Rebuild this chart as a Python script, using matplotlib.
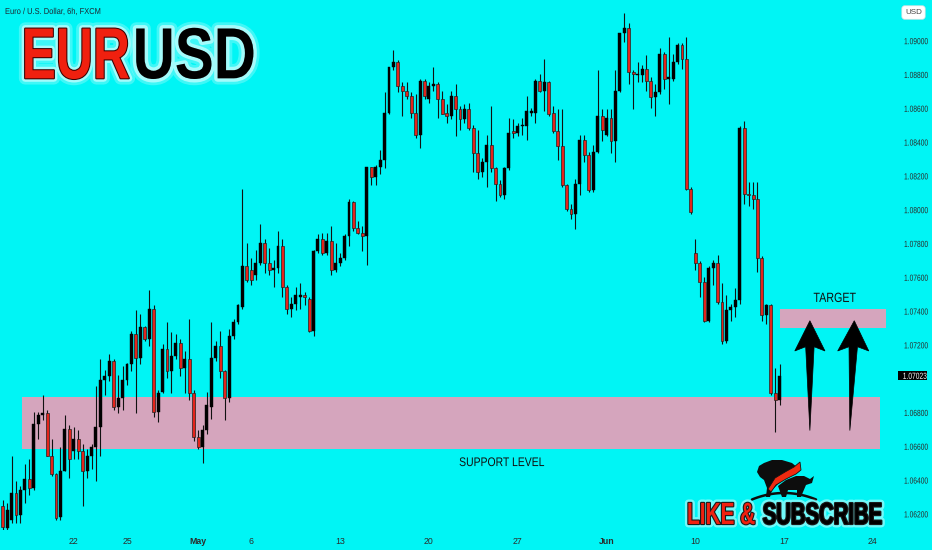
import matplotlib
matplotlib.use('Agg')
import matplotlib.pyplot as plt
import numpy as np
import pandas as pd
from matplotlib import patheffects as pe
from matplotlib.patches import Rectangle, Polygon
from matplotlib.transforms import Affine2D, blended_transform_factory

# ---- EURUSD 6h candles, 16 Apr - 14 Jun 2024, 4 candles per trading day ----
opens = [
    1.0625, 1.0612, 1.0617, 1.0633, 1.0620, 1.0635, 1.0641, 1.0636,
    1.0674, 1.0679, 1.0680, 1.0655, 1.0644, 1.0619, 1.0646, 1.0671,
    1.0658, 1.0665, 1.0658, 1.0646, 1.0655, 1.0660, 1.0672, 1.0700,
    1.0702, 1.0711, 1.0684, 1.0689, 1.0700, 1.0709, 1.0727, 1.0713,
    1.0731, 1.0724, 1.0742, 1.0681, 1.0693, 1.0718, 1.0705, 1.0714,
    1.0722, 1.0707, 1.0712, 1.0692, 1.0666, 1.0660, 1.0670, 1.0684,
    1.0713, 1.0720, 1.0705, 1.0689, 1.0726, 1.0734, 1.0743, 1.0767,
    1.0765, 1.0762, 1.0769, 1.0781, 1.0769, 1.0765, 1.0766, 1.0779,
    1.0755, 1.0742, 1.0745, 1.0749, 1.0750, 1.0748, 1.0729, 1.0776,
    1.0783, 1.0775, 1.0782, 1.0765, 1.0769, 1.0772, 1.0785, 1.0805,
    1.0790, 1.0787, 1.0785, 1.0826, 1.0820, 1.0826, 1.0830, 1.0858,
    1.0885, 1.0888, 1.0874, 1.0871, 1.0868, 1.0858, 1.0845, 1.0877,
    1.0866, 1.0874, 1.0875, 1.0866, 1.0858, 1.0856, 1.0868, 1.0860,
    1.0854, 1.0860, 1.0849, 1.0834, 1.0823, 1.0829, 1.0839, 1.0825,
    1.0816, 1.0809, 1.0825, 1.0847, 1.0846, 1.0850, 1.0850, 1.0858,
    1.0858, 1.0877, 1.0871, 1.0876, 1.0858, 1.0847, 1.0838, 1.0815,
    1.0801, 1.0798, 1.0816, 1.0842, 1.0833, 1.0812, 1.0835, 1.0856,
    1.0845, 1.0855, 1.0841, 1.0871, 1.0905, 1.0908, 1.0882, 1.0880,
    1.0880, 1.0884, 1.0877, 1.0867, 1.0870, 1.0893, 1.0878, 1.0878,
    1.0888, 1.0898, 1.0890, 1.0813, 1.0775, 1.0769, 1.0758, 1.0735,
    1.0766, 1.0769, 1.0746, 1.0723, 1.0741, 1.0743, 1.0747, 1.0849,
    1.0810, 1.0809, 1.0807, 1.0772, 1.0738, 1.0744, 1.0692, 1.0688,
]
highs = [
    1.0629, 1.0627, 1.0655, 1.0640, 1.0637, 1.0650, 1.0653, 1.0681,
    1.0681, 1.0691, 1.0682, 1.0665, 1.0645, 1.0660, 1.0679, 1.0673,
    1.0672, 1.0670, 1.0662, 1.0659, 1.0662, 1.0696, 1.0712, 1.0706,
    1.0715, 1.0712, 1.0703, 1.0708, 1.0710, 1.0729, 1.0741, 1.0739,
    1.0732, 1.0753, 1.0744, 1.0694, 1.0721, 1.0734, 1.0728, 1.0727,
    1.0724, 1.0717, 1.0736, 1.0694, 1.0670, 1.0673, 1.0693, 1.0734,
    1.0723, 1.0729, 1.0706, 1.0730, 1.0736, 1.0745, 1.0813, 1.0781,
    1.0772, 1.0777, 1.0792, 1.0783, 1.0778, 1.0771, 1.0788, 1.0783,
    1.0756, 1.0749, 1.0755, 1.0757, 1.0752, 1.0749, 1.0777, 1.0786,
    1.0787, 1.0787, 1.0791, 1.0781, 1.0775, 1.0786, 1.0807, 1.0806,
    1.0794, 1.0791, 1.0826, 1.0826, 1.0827, 1.0836, 1.0870, 1.0885,
    1.0895, 1.0889, 1.0876, 1.0876, 1.0870, 1.0869, 1.0878, 1.0878,
    1.0876, 1.0885, 1.0876, 1.0871, 1.0863, 1.0871, 1.0875, 1.0862,
    1.0863, 1.0864, 1.0851, 1.0848, 1.0831, 1.0845, 1.0862, 1.0826,
    1.0818, 1.0826, 1.0855, 1.0854, 1.0852, 1.0855, 1.0868, 1.0861,
    1.0878, 1.0881, 1.0890, 1.0877, 1.0862, 1.0860, 1.0860, 1.0816,
    1.0804, 1.0819, 1.0845, 1.0845, 1.0835, 1.0839, 1.0883, 1.0860,
    1.0860, 1.0860, 1.0883, 1.0905, 1.0917, 1.0911, 1.0883, 1.0888,
    1.0886, 1.0892, 1.0879, 1.0875, 1.0896, 1.0894, 1.0903, 1.0893,
    1.0899, 1.0899, 1.0903, 1.0814, 1.0783, 1.0770, 1.0761, 1.0767,
    1.0771, 1.0774, 1.0757, 1.0750, 1.0745, 1.0754, 1.0850, 1.0853,
    1.0817, 1.0817, 1.0817, 1.0773, 1.0745, 1.0745, 1.0707, 1.0709,
]
lows = [
    1.0610, 1.0611, 1.0615, 1.0615, 1.0615, 1.0627, 1.0632, 1.0635,
    1.0665, 1.0676, 1.0655, 1.0643, 1.0617, 1.0617, 1.0646, 1.0642,
    1.0653, 1.0653, 1.0625, 1.0642, 1.0647, 1.0640, 1.0655, 1.0691,
    1.0699, 1.0682, 1.0680, 1.0682, 1.0697, 1.0705, 1.0680, 1.0709,
    1.0723, 1.0720, 1.0678, 1.0675, 1.0692, 1.0701, 1.0692, 1.0712,
    1.0702, 1.0692, 1.0688, 1.0664, 1.0659, 1.0651, 1.0668, 1.0677,
    1.0711, 1.0701, 1.0676, 1.0687, 1.0724, 1.0733, 1.0742, 1.0758,
    1.0756, 1.0759, 1.0768, 1.0763, 1.0762, 1.0755, 1.0763, 1.0749,
    1.0739, 1.0737, 1.0741, 1.0742, 1.0744, 1.0728, 1.0726, 1.0775,
    1.0774, 1.0774, 1.0762, 1.0764, 1.0767, 1.0771, 1.0779, 1.0788,
    1.0786, 1.0776, 1.0768, 1.0815, 1.0815, 1.0822, 1.0825, 1.0857,
    1.0883, 1.0870, 1.0856, 1.0866, 1.0855, 1.0843, 1.0837, 1.0866,
    1.0864, 1.0871, 1.0855, 1.0857, 1.0852, 1.0854, 1.0844, 1.0848,
    1.0852, 1.0848, 1.0823, 1.0819, 1.0820, 1.0814, 1.0823, 1.0806,
    1.0808, 1.0807, 1.0824, 1.0843, 1.0844, 1.0845, 1.0842, 1.0856,
    1.0852, 1.0870, 1.0859, 1.0856, 1.0846, 1.0830, 1.0814, 1.0800,
    1.0795, 1.0789, 1.0809, 1.0829, 1.0811, 1.0811, 1.0834, 1.0841,
    1.0844, 1.0834, 1.0829, 1.0870, 1.0900, 1.0875, 1.0860, 1.0876,
    1.0876, 1.0871, 1.0861, 1.0856, 1.0869, 1.0872, 1.0863, 1.0877,
    1.0887, 1.0884, 1.0812, 1.0798, 1.0765, 1.0749, 1.0734, 1.0734,
    1.0756, 1.0745, 1.0721, 1.0722, 1.0735, 1.0737, 1.0745, 1.0804,
    1.0803, 1.0801, 1.0764, 1.0735, 1.0733, 1.0691, 1.0669, 1.0685,
]
closes = [
    1.0613, 1.0623, 1.0633, 1.0620, 1.0635, 1.0641, 1.0636, 1.0674,
    1.0679, 1.0680, 1.0655, 1.0644, 1.0618, 1.0646, 1.0671, 1.0653,
    1.0665, 1.0658, 1.0646, 1.0655, 1.0660, 1.0672, 1.0700, 1.0702,
    1.0711, 1.0684, 1.0689, 1.0700, 1.0709, 1.0727, 1.0713, 1.0731,
    1.0724, 1.0742, 1.0681, 1.0692, 1.0718, 1.0705, 1.0714, 1.0722,
    1.0707, 1.0712, 1.0692, 1.0666, 1.0660, 1.0670, 1.0685, 1.0713,
    1.0720, 1.0705, 1.0689, 1.0726, 1.0734, 1.0744, 1.0767, 1.0759,
    1.0759, 1.0769, 1.0781, 1.0769, 1.0765, 1.0766, 1.0779, 1.0755,
    1.0742, 1.0745, 1.0750, 1.0750, 1.0749, 1.0729, 1.0776, 1.0783,
    1.0775, 1.0782, 1.0765, 1.0769, 1.0772, 1.0785, 1.0805, 1.0790,
    1.0787, 1.0785, 1.0826, 1.0820, 1.0826, 1.0830, 1.0858, 1.0885,
    1.0888, 1.0874, 1.0871, 1.0868, 1.0858, 1.0845, 1.0877, 1.0868,
    1.0874, 1.0875, 1.0866, 1.0857, 1.0856, 1.0868, 1.0860, 1.0854,
    1.0860, 1.0849, 1.0834, 1.0823, 1.0829, 1.0839, 1.0825, 1.0816,
    1.0809, 1.0825, 1.0846, 1.0846, 1.0850, 1.0851, 1.0859, 1.0859,
    1.0877, 1.0871, 1.0876, 1.0857, 1.0847, 1.0838, 1.0815, 1.0801,
    1.0798, 1.0816, 1.0842, 1.0833, 1.0812, 1.0835, 1.0856, 1.0848,
    1.0855, 1.0841, 1.0871, 1.0905, 1.0908, 1.0882, 1.0881, 1.0881,
    1.0884, 1.0877, 1.0867, 1.0870, 1.0893, 1.0878, 1.0879, 1.0888,
    1.0898, 1.0890, 1.0813, 1.0799, 1.0769, 1.0758, 1.0735, 1.0766,
    1.0769, 1.0746, 1.0723, 1.0741, 1.0743, 1.0747, 1.0849, 1.0810,
    1.0809, 1.0807, 1.0772, 1.0738, 1.0744, 1.0692, 1.0688, 1.07023,
]

first_day = '2024-04-16'
last_day = '2024-06-28'
candles_per_day = 4
tick_days = ['2024-04-22', '2024-04-25', '2024-05-01', '2024-05-06', '2024-05-13',
             '2024-05-20', '2024-05-27', '2024-06-03', '2024-06-10', '2024-06-17',
             '2024-06-24']
tick_texts = ['22', '25', 'May', '6', '13', '20', '27', 'Jun', '10', '17', '24']
month_texts = ['May', 'Jun']
price_ticks = [1.062, 1.064, 1.066, 1.068, 1.072, 1.074, 1.076, 1.078,
               1.080, 1.082, 1.084, 1.086, 1.088, 1.090]

support_low, support_high = 1.06588, 1.06900
support_from, support_to = 4.3, 197.7
target_low, target_high = 1.07308, 1.07418
target_from, target_to = 175.1, 198.9

BG = '#00f5f5'
DOWN = '#e3241b'
ZONE = '#d5a5bd'
INK = '#111111'


class Stretch(pe.AbstractPathEffect):
    '''stretch the glyphs of a text (from its left end / baseline) before another effect draws them'''
    def __init__(self, sy, inner, sx=1.0):
        super().__init__()
        self.sx = sx
        self.sy = sy
        self.inner = inner

    def draw_path(self, renderer, gc, tpath, affine, rgbFace=None):
        self.inner.draw_path(renderer, gc, tpath,
                             Affine2D().scale(self.sx, self.sy) + affine, rgbFace)


def tall(sy, *effects):
    '''condensed look: small font size drawn taller'''
    return [Stretch(sy, e) for e in effects]


def plotCandles(ax):
    '''wicks and bodies'''
    o = np.array(opens)
    h = np.array(highs)
    l = np.array(lows)
    c = np.array(closes)
    x = np.arange(len(o))
    up = c >= o
    bottom = np.minimum(o, c)
    height = np.maximum(np.abs(c - o), 0.00004)

    ax.vlines(x, l, h, color=INK, lw=0.8, zorder=3)
    ax.bar(x[up], height[up], bottom=bottom[up], width=0.66,
           color='black', edgecolor='black', lw=0.3, zorder=4)
    ax.bar(x[~up], height[~up], bottom=bottom[~up], width=0.66,
           color=DOWN, edgecolor='#222222', lw=0.5, zorder=4)


def arrowShape(x_tail, y_tail, x_tip, y_tip, y_neck, y_barb, half_head, half_shaft):
    '''outline of a thin tapering arrow pointing up'''
    t = (y_neck - y_tail) / (y_tip - y_tail)
    x_neck = x_tail + t * (x_tip - x_tail)
    return [(x_tail, y_tail), (x_neck + half_shaft, y_neck), (x_neck + half_head, y_barb),
            (x_tip, y_tip), (x_neck - half_head, y_barb), (x_neck - half_shaft, y_neck)]


fig = plt.figure(figsize=(9.32, 5.5), dpi=100, facecolor=BG)
ax = fig.add_axes([0, 20 / 550, 895 / 932, 530 / 550], facecolor=BG)

# zones
ax.add_patch(Rectangle((support_from, support_low), support_to - support_from,
                       support_high - support_low, fc=ZONE, ec='none', zorder=1))
ax.add_patch(Rectangle((target_from, target_low), target_to - target_from,
                       target_high - target_low, fc=ZONE, ec='none', zorder=1))

plotCandles(ax)

# arrows to target
ax.add_patch(Polygon(arrowShape(181.8, 1.06699, 181.8, 1.07349, 1.07195, 1.07170, 3.4, 0.95),
                     closed=True, fc='black', ec='black', lw=0.5, zorder=5))
ax.add_patch(Polygon(arrowShape(190.8, 1.06699, 191.8, 1.07349, 1.07195, 1.07170, 3.5, 0.95),
                     closed=True, fc='black', ec='black', lw=0.5, zorder=5))

ax.text(182.6, 1.07460, 'TARGET', fontsize=7.7, color=INK, family='Liberation Sans',
        ha='left', va='baseline', path_effects=tall(1.25, pe.Normal()))
ax.text(102.8, 1.06489, 'SUPPORT LEVEL', fontsize=7.5, color=INK, family='Liberation Sans',
        ha='left', va='baseline', path_effects=tall(1.2, pe.Normal()))

# axes
ax.set_xlim(-0.61, 200.97)
ax.set_ylim(1.061106, 1.0924675)
for s in ax.spines.values():
    s.set_visible(False)

days = pd.bdate_range(first_day, last_day)
day_pos = {d.strftime('%Y-%m-%d'): i * candles_per_day for i, d in enumerate(days)}
ax.set_xticks([day_pos[d] for d in tick_days])
ax.set_xticklabels(tick_texts)
ax.tick_params(axis='x', length=0, pad=5, labelsize=6.3, labelcolor='#2b2b2b')
for lab in ax.get_xticklabels():
    lab.set_family('Liberation Sans')
    if lab.get_text() in month_texts:
        lab.set_fontweight('bold')

ax.yaxis.tick_right()
ax.set_yticks(price_ticks)
ax.set_yticklabels(['%.5f' % p for p in price_ticks])
ax.tick_params(axis='y', length=0, pad=6.5, labelsize=4.8, labelcolor='#2b2b2b')
for lab in ax.get_yticklabels():
    lab.set_family('Liberation Sans')
    lab.set_path_effects(tall(1.33, pe.Normal()))

# last price tag
trans = blended_transform_factory(ax.transAxes, ax.transData)
ax.add_patch(Rectangle((1.0034, closes[-1] - 0.00027), 0.0324, 0.00054, transform=trans,
                       fc='black', ec='none', clip_on=False, zorder=6))
ax.text(1.0087, closes[-1] - 0.00018, '%.5f' % closes[-1], transform=trans, fontsize=4.8,
        family='Liberation Sans', color='white', ha='left', va='baseline',
        clip_on=False, zorder=7, path_effects=tall(1.33, pe.Normal()))

# overlay in pixel units for title, watermark, logo
ov = fig.add_axes([0, 0, 1, 1], facecolor='none')
ov.set_xlim(0, 932)
ov.set_ylim(550, 0)
ov.axis('off')

ov.text(5, 14, 'Euro / U.S. Dollar, 6h, FXCM', fontsize=5.4, color='#1c2833',
        family='Liberation Sans', ha='left', va='baseline',
        path_effects=tall(1.15, pe.Normal()))
ov.text(913.5, 12.5, 'USD', fontsize=5.8, color='#444444', family='Liberation Sans',
        ha='center', va='center',
        bbox=dict(boxstyle='round,pad=0.4,rounding_size=0.35', fc='white', ec='#e0e0e0', lw=0.5))

glow = [pe.Stroke(linewidth=9, foreground='white', alpha=0.25),
        pe.Stroke(linewidth=5, foreground='#e8ffff', alpha=0.6)]
ov.text(21.7, 78.3, 'EUR', fontsize=36.9, fontweight='bold', family='Liberation Sans',
        color='#f0200f', ha='left', va='baseline',
        path_effects=tall(1.41, *glow, pe.Stroke(linewidth=1.5, foreground='#3a0000'), pe.Normal()))
ov.text(132.7, 78.3, 'USD', fontsize=42, fontweight='bold', family='Liberation Sans',
        color='black', ha='left', va='baseline',
        path_effects=tall(1.24, *glow, pe.Normal()))

# logo: bear, bull, red swoosh and arc
bear = [(757, 472), (759, 466), (764, 463), (772, 460), (782, 460), (792, 463), (798, 468),
        (795, 474), (786, 478), (778, 484), (772, 490), (770, 497), (766, 497), (767, 488),
        (764, 480), (760, 477)]
bull = [(778, 486), (786, 480), (796, 476), (804, 476), (810, 479), (814, 476), (812, 483),
        (806, 485), (803, 492), (801, 497), (797, 497), (797, 490), (788, 490), (786, 497),
        (782, 497)]
swoosh = [(768, 489), (775, 478), (785, 472), (794, 467), (800, 462), (801, 470), (796, 474),
          (786, 479), (776, 485), (771, 492)]
ov.add_patch(Polygon(bear, closed=True, fc='#0d0d0d', ec='none'))
ov.add_patch(Polygon(bull, closed=True, fc='#0d0d0d', ec='none'))
ov.add_patch(Polygon(swoosh, closed=True, fc='#f02a10', ec='#111111', lw=0.6))
arc_x = np.linspace(752, 816, 40)
ov.plot(arc_x, 499.5 - 6.5 * (1 - ((arc_x - 784) / 32) ** 2), color='#0d0d0d', lw=1.8,
        solid_capstyle='round')

logo_fx = [pe.Stroke(linewidth=5, foreground='white', alpha=0.45),
           pe.Stroke(linewidth=1.6, foreground='#1a1a1a')]
ov.text(687, 524, 'LIKE &', fontsize=15, fontweight='bold', family='Liberation Sans',
        color='#f0200f', ha='left', va='baseline',
        path_effects=tall(1.47, *logo_fx, pe.Normal()))
ov.text(762.7, 524, 'SUBSCRIBE', fontsize=14.6, fontweight='bold', family='Liberation Sans',
        color='black', ha='left', va='baseline',
        path_effects=tall(1.5, *logo_fx, pe.Normal()))

fig.savefig('out.png', dpi=100, facecolor=BG)
